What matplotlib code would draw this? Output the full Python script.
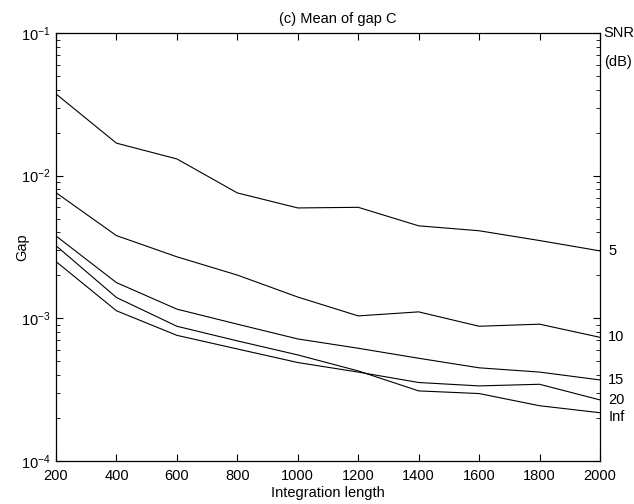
import numpy as np
import matplotlib
matplotlib.use('Agg')
import matplotlib.pyplot as plt
from matplotlib.ticker import LogLocator, FixedLocator
import matplotlib.transforms as mtransforms

plt.rcParams['font.family'] = ['Liberation Sans', 'DejaVu Sans']
plt.rcParams['mathtext.fontset'] = 'custom'
plt.rcParams['mathtext.rm'] = 'Liberation Sans'
plt.rcParams['mathtext.it'] = 'Liberation Sans'
plt.rcParams['mathtext.default'] = 'regular'

# dados
lengths = [200, 400, 600, 800, 1000, 1200, 1400, 1600, 1800, 2000]
gap_5 = [0.0374, 0.0169, 0.0131, 0.00757, 0.00594, 0.0060, 0.00445, 0.00411, 0.00351, 0.00297]
gap_10 = [0.0076, 0.0038, 0.0027, 0.00201, 0.00141, 0.00104, 0.00111, 0.00088, 0.00091, 0.000736]
gap_15 = [0.00378, 0.00178, 0.00116, 0.00091, 0.000717, 0.000617, 0.000525, 0.00045, 0.00042, 0.00037]
gap_20 = [0.0025, 0.00113, 0.00076, 0.00061, 0.00049, 0.00042, 0.000355, 0.000336, 0.000345, 0.000268]
gap_inf = [0.00323, 0.0014, 0.00088, 0.000695, 0.000554, 0.000428, 0.00031, 0.000297, 0.000244, 0.000218]
snr_labels = ['5', '10', '15', '20', 'Inf']

fs = 10.5

fig = plt.figure(figsize=(6.34, 5.04), dpi=100)
ax = fig.add_axes([56 / 634, 43 / 504, 544 / 634, 428 / 504])

series = [gap_5, gap_10, gap_15, gap_20, gap_inf]
for g in series:
    ax.plot(lengths, g, color='black', linewidth=0.8)

ax.set_yscale('log')
ax.set_xlim(200, 2000)
ax.set_ylim(1e-4, 1e-1)
ax.xaxis.set_major_locator(FixedLocator(lengths))
ax.yaxis.set_major_locator(LogLocator(base=10, numticks=10))
ax.yaxis.set_minor_locator(LogLocator(base=10, subs=np.arange(2, 10), numticks=10))
ax.tick_params(which='both', direction='in', top=True, right=True, labelsize=fs)
ax.tick_params(which='major', length=5)
ax.tick_params(which='minor', length=3)
ax.tick_params(axis='x', pad=6)
ax.tick_params(axis='y', pad=4)
for s in ax.spines.values():
    s.set_linewidth(0.9)

ax.set_title('(c) Mean of gap C', fontsize=fs, pad=7, x=0.518)
ax.set_xlabel('Integration length', fontsize=fs, labelpad=2)
ax.set_ylabel('Gap', fontsize=fs)
ax.yaxis.set_label_coords(-0.05, 0.5)

# rotulos de SNR fora do eixo, a direita
trans = mtransforms.blended_transform_factory(ax.transAxes, ax.transData)
ax.text(1.007, 1.0, 'SNR', transform=ax.transAxes, fontsize=fs, va='center', ha='left')
ax.text(1.007, 0.932, '(dB)', transform=ax.transAxes, fontsize=fs, va='center', ha='left')
end_y = [gap_5[-1], gap_10[-1], gap_15[-1], gap_20[-1], gap_inf[-1] * 0.93]
for lab, yv in zip(snr_labels, end_y):
    ax.text(1.015, yv, lab, transform=trans, fontsize=fs, va='center', ha='left')

fig.savefig('out.png', dpi=100)
